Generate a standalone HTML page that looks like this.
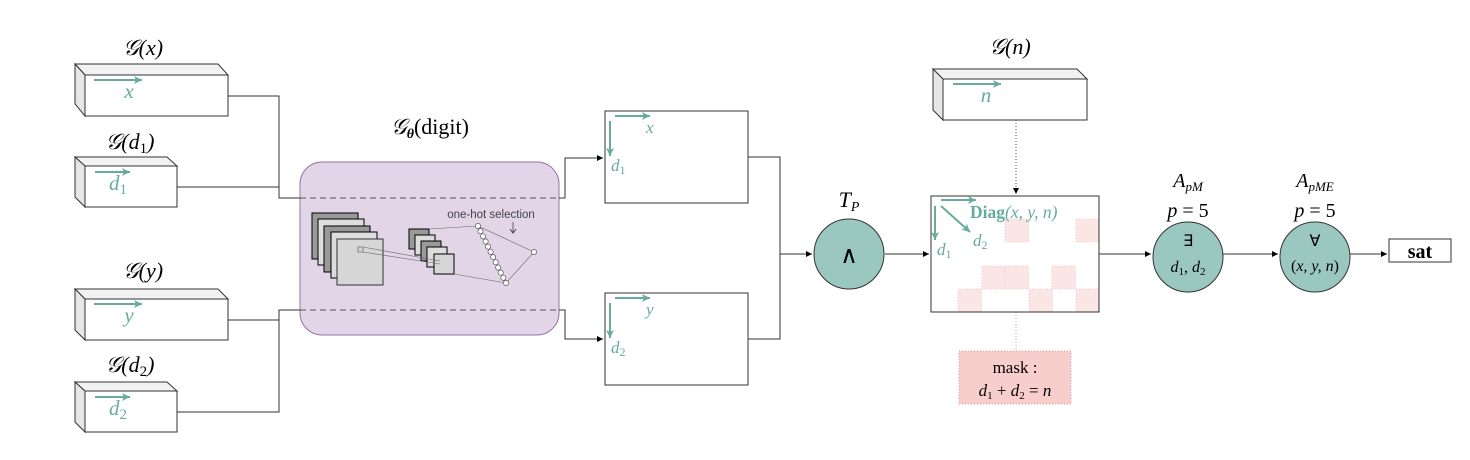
<!DOCTYPE html>
<html><head><meta charset="utf-8"><style>
html,body{margin:0;padding:0;background:#fff;width:1470px;height:460px;overflow:hidden}
svg{display:block}
.m{font-family:"Liberation Serif",serif;font-style:italic}
.r{font-family:"Liberation Serif",serif}
</style></head><body>
<svg width="1470" height="460" viewBox="0 0 1470 460" xmlns="http://www.w3.org/2000/svg">
<defs>
<marker id="ah" markerWidth="8" markerHeight="8" refX="6" refY="3" orient="auto" markerUnits="userSpaceOnUse"><path d="M0,0 L6,3 L0,6 z" fill="#000"/></marker>
<marker id="at" markerWidth="10" markerHeight="10" refX="8" refY="4" orient="auto" markerUnits="userSpaceOnUse"><path d="M0,0 L8,4 L0,8 L2,4 z" fill="#67ab9f"/></marker>
<marker id="ag" markerWidth="8" markerHeight="8" refX="4" refY="4" orient="auto" markerUnits="userSpaceOnUse"><path d="M0,1 L4,4 L0,7" fill="none" stroke="#444"/></marker>
</defs>

<g>
<text x="143" y="55" class="m" font-size="22" text-anchor="middle">𝒢(x)</text>
<polygon points="75,64 218,64 228,75 85,75" fill="#f2f2f2" stroke="#333"/>
<polygon points="75,64 85,75 85,116 75,104" fill="#e6e6e6" stroke="#333"/>
<rect x="85" y="75" width="143" height="41" fill="#fff" stroke="#333"/>
<line x1="94" y1="80" x2="142" y2="80" stroke="#67ab9f" stroke-width="2" marker-end="url(#at)"/>
<text x="129" y="98" class="m" font-size="21" fill="#67ab9f" text-anchor="middle">x</text>
</g>
<g>
<text x="130" y="149" class="m" font-size="22" text-anchor="middle">𝒢(d<tspan font-size="15" dy="4" font-style="normal">1</tspan><tspan dy="-4">)</tspan></text>
<polygon points="75,157 167,157 177,166 85,166" fill="#f2f2f2" stroke="#333"/>
<polygon points="75,157 85,166 85,207 75,197" fill="#e6e6e6" stroke="#333"/>
<rect x="85" y="166" width="92" height="41" fill="#fff" stroke="#333"/>
<line x1="95" y1="172" x2="130" y2="172" stroke="#67ab9f" stroke-width="2" marker-end="url(#at)"/>
<text x="109" y="190" class="m" font-size="21" fill="#67ab9f">d<tspan font-size="15" dy="4" font-style="normal">1</tspan></text>
</g>
<g>
<text x="143" y="278" class="m" font-size="22" text-anchor="middle">𝒢(y)</text>
<polygon points="75,289 218,289 228,299 85,299" fill="#f2f2f2" stroke="#333"/>
<polygon points="75,289 85,299 85,340 75,330" fill="#e6e6e6" stroke="#333"/>
<rect x="85" y="299" width="143" height="41" fill="#fff" stroke="#333"/>
<line x1="94" y1="304" x2="142" y2="304" stroke="#67ab9f" stroke-width="2" marker-end="url(#at)"/>
<text x="129" y="322" class="m" font-size="21" fill="#67ab9f" text-anchor="middle">y</text>
</g>
<g>
<text x="130" y="372" class="m" font-size="22" text-anchor="middle">𝒢(d<tspan font-size="15" dy="4" font-style="normal">2</tspan><tspan dy="-4">)</tspan></text>
<polygon points="75,382 167,382 177,391 85,391" fill="#f2f2f2" stroke="#333"/>
<polygon points="75,382 85,391 85,432 75,422" fill="#e6e6e6" stroke="#333"/>
<rect x="85" y="391" width="92" height="41" fill="#fff" stroke="#333"/>
<line x1="95" y1="397" x2="130" y2="397" stroke="#67ab9f" stroke-width="2" marker-end="url(#at)"/>
<text x="109" y="415" class="m" font-size="21" fill="#67ab9f">d<tspan font-size="15" dy="4" font-style="normal">2</tspan></text>
</g>

<g>
<text x="430" y="134" class="m" font-size="22" text-anchor="middle">𝒢<tspan font-size="14" dy="4" font-weight="bold">θ</tspan><tspan dy="-4" font-style="normal">(digit)</tspan></text>
<rect x="300" y="162" width="259" height="173" rx="22" fill="#e1d5e7" stroke="#9673a6"/>
<g stroke="#000" stroke-width="1">
<rect x="312" y="213" width="46" height="46" fill="#999"/>
<rect x="318" y="219" width="46" height="46" fill="#ddd"/>
<rect x="324" y="226" width="46" height="46" fill="#999"/>
<rect x="331" y="232" width="46" height="46" fill="#ddd"/>
<rect x="337" y="239" width="46" height="46" fill="#d6d6d6" stroke="#333"/>
<rect x="409" y="229" width="20" height="20" fill="#999"/>
<rect x="415" y="235" width="20" height="20" fill="#ddd"/>
<rect x="421" y="241" width="20" height="20" fill="#999"/>
<rect x="427" y="247" width="20" height="20" fill="#ddd"/>
<rect x="434" y="254" width="20" height="20" fill="#d6d6d6"/>
</g>
<rect x="358" y="247" width="5" height="5" fill="none" stroke="#888"/>
<line x1="363" y1="247" x2="440" y2="261" stroke="#666" stroke-width="0.6"/>
<line x1="363" y1="252" x2="440" y2="264" stroke="#666" stroke-width="0.6"/>
<line x1="429" y1="229" x2="478" y2="226" stroke="#666" stroke-width="0.6"/>
<line x1="454" y1="274" x2="506" y2="283" stroke="#666" stroke-width="0.6"/>
<line x1="478" y1="226" x2="534" y2="252" stroke="#666" stroke-width="0.6"/>
<line x1="506" y1="283" x2="534" y2="252" stroke="#666" stroke-width="0.6"/>
<g fill="#fff" stroke="#555" stroke-width="0.7">
<circle cx="478" cy="226" r="2.6"/><circle cx="480.5" cy="231.2" r="2.6"/><circle cx="483" cy="236.4" r="2.6"/><circle cx="485.6" cy="241.5" r="2.6"/><circle cx="488.1" cy="246.7" r="2.6"/><circle cx="490.6" cy="251.9" r="2.6"/><circle cx="493.1" cy="257.1" r="2.6"/><circle cx="495.7" cy="262.3" r="2.6"/><circle cx="498.2" cy="267.5" r="2.6"/><circle cx="500.7" cy="272.6" r="2.6"/><circle cx="503.3" cy="277.8" r="2.6"/><circle cx="506" cy="283" r="2.6"/>
<circle cx="534" cy="252" r="2.6"/>
</g>
<text x="491" y="218" font-family="Liberation Sans, sans-serif" font-size="11.5" fill="#444" text-anchor="middle">one-hot selection</text>
<line x1="513" y1="222" x2="513" y2="233" stroke="#444" stroke-width="0.8" marker-end="url(#ag)"/>
</g>

<g fill="none" stroke="#333" stroke-width="1">
<polyline points="228,96 279,96 279,198 300,198"/>
<line x1="177" y1="187" x2="279" y2="187"/>
<polyline points="228,320 279,320 279,310 300,310"/>
<polyline points="177,412 279,412 279,310"/>
<line x1="300" y1="198" x2="559" y2="198" stroke-dasharray="6,4" stroke="#555"/>
<line x1="300" y1="310" x2="559" y2="310" stroke-dasharray="6,4" stroke="#555"/>
<polyline points="559,198 565,198 565,158 603,158" marker-end="url(#ah)"/>
<polyline points="559,310 565,310 565,339 603,339" marker-end="url(#ah)"/>
</g>

<g>
<rect x="605" y="111" width="143" height="92" fill="#fff" stroke="#333"/>
<line x1="615" y1="116" x2="650" y2="116" stroke="#67ab9f" stroke-width="2" marker-end="url(#at)"/>
<line x1="610" y1="121" x2="610" y2="156" stroke="#67ab9f" stroke-width="2" marker-end="url(#at)"/>
<text x="646" y="133" class="m" font-size="17" fill="#67ab9f">x</text>
<text x="611" y="171" class="m" font-size="17" fill="#67ab9f">d<tspan font-size="12" dy="3" font-style="normal">1</tspan></text>
</g>
<g>
<rect x="605" y="293" width="143" height="92" fill="#fff" stroke="#333"/>
<line x1="615" y1="298" x2="650" y2="298" stroke="#67ab9f" stroke-width="2" marker-end="url(#at)"/>
<line x1="610" y1="303" x2="610" y2="338" stroke="#67ab9f" stroke-width="2" marker-end="url(#at)"/>
<text x="646" y="315" class="m" font-size="17" fill="#67ab9f">y</text>
<text x="611" y="353" class="m" font-size="17" fill="#67ab9f">d<tspan font-size="12" dy="3" font-style="normal">2</tspan></text>
</g>
<g fill="none" stroke="#333">
<polyline points="748,157 780,157 780,339 748,339"/>
<line x1="780" y1="254" x2="812" y2="254" marker-end="url(#ah)"/>
<line x1="885" y1="254" x2="929" y2="254" marker-end="url(#ah)"/>
</g>

<g>
<text x="849" y="207" class="m" font-size="22" text-anchor="middle">T<tspan font-size="14" dy="4">P</tspan></text>
<circle cx="849" cy="254" r="35" fill="#9ac7bf" stroke="#333"/>
<text x="849" y="263" class="r" font-size="24" text-anchor="middle">∧</text>
</g>

<g>
<text x="1010" y="54" class="m" font-size="22" text-anchor="middle">𝒢(n)</text>
<polygon points="933,69 1077,69 1087,79 943,79" fill="#f2f2f2" stroke="#333"/>
<polygon points="933,69 943,79 943,120 933,110" fill="#e6e6e6" stroke="#333"/>
<rect x="943" y="79" width="144" height="41" fill="#fff" stroke="#333"/>
<line x1="953" y1="84" x2="1001" y2="84" stroke="#67ab9f" stroke-width="2" marker-end="url(#at)"/>
<text x="986" y="102" class="m" font-size="21" fill="#67ab9f" text-anchor="middle">n</text>
</g>
<line x1="1016" y1="120" x2="1016" y2="194" stroke="#555" stroke-dasharray="1,2" marker-end="url(#ah)"/>
<line x1="1016" y1="312" x2="1016" y2="351" stroke="#d79b9b" stroke-dasharray="1,2"/>

<g>
<rect x="931" y="196" width="168" height="116" fill="#fff" stroke="#333"/>
<g fill="#fbe6e6" stroke="#f2b8b8" stroke-dasharray="1,2" stroke-width="0.8">
<rect x="1005" y="219" width="23.5" height="23"/><rect x="1076" y="219" width="23" height="23"/>
<rect x="982" y="266" width="23.5" height="23"/><rect x="1005" y="266" width="23.5" height="23"/><rect x="1052" y="266" width="23.5" height="23"/>
<rect x="958" y="289" width="23.5" height="23"/><rect x="1029" y="289" width="23.5" height="23"/><rect x="1076" y="289" width="23" height="23"/>
</g>
<rect x="931" y="196" width="168" height="116" fill="none" stroke="#333"/>
<line x1="941" y1="200" x2="976" y2="200" stroke="#67ab9f" stroke-width="2" marker-end="url(#at)"/>
<line x1="935" y1="206" x2="935" y2="240" stroke="#67ab9f" stroke-width="2" marker-end="url(#at)"/>
<line x1="941" y1="206" x2="970" y2="232" stroke="#67ab9f" stroke-width="2" marker-end="url(#at)"/>
<text x="970" y="218" font-size="17.5" fill="#67ab9f" class="r"><tspan font-weight="bold">Diag</tspan><tspan font-style="italic">(x, y, n)</tspan></text>
<text x="973" y="246" class="m" font-size="17" fill="#67ab9f">d<tspan font-size="12" dy="3" font-style="normal">2</tspan></text>
<text x="937" y="255" class="m" font-size="17" fill="#67ab9f">d<tspan font-size="12" dy="3" font-style="normal">1</tspan></text>
</g>
<g>
<rect x="959" y="351" width="112" height="53" fill="#f8cecc" stroke="#d79b9b" stroke-dasharray="1,2"/>
<text x="1015" y="373" class="r" font-size="17" text-anchor="middle">mask :</text>
<text x="1015" y="396" class="m" font-size="17" text-anchor="middle">d<tspan font-size="11" dy="3" font-style="normal">1</tspan><tspan dy="-3" font-style="normal"> + </tspan>d<tspan font-size="11" dy="3" font-style="normal">2</tspan><tspan dy="-3" font-style="normal"> = </tspan>n</text>
</g>

<g fill="none" stroke="#333">
<line x1="1099" y1="254" x2="1151" y2="254" marker-end="url(#ah)"/>
<line x1="1223" y1="254" x2="1278" y2="254" marker-end="url(#ah)"/>
<line x1="1350" y1="254" x2="1387" y2="254" marker-end="url(#ah)"/>
</g>
<g>
<text x="1188" y="187" class="m" font-size="20" text-anchor="middle">A<tspan font-size="13" dy="4">pM</tspan></text>
<text x="1188" y="217" class="m" font-size="20" text-anchor="middle">p<tspan font-style="normal"> = 5</tspan></text>
<circle cx="1188" cy="257" r="35" fill="#9ac7bf" stroke="#333"/>
<text x="1188" y="246" class="r" font-size="16" text-anchor="middle">∃</text>
<text x="1188" y="272" class="m" font-size="16" text-anchor="middle">d<tspan font-size="11" dy="3" font-style="normal">1</tspan><tspan dy="-3" font-style="normal">, </tspan>d<tspan font-size="11" dy="3" font-style="normal">2</tspan></text>
</g>
<g>
<text x="1315" y="187" class="m" font-size="20" text-anchor="middle">A<tspan font-size="13" dy="4">pME</tspan></text>
<text x="1315" y="217" class="m" font-size="20" text-anchor="middle">p<tspan font-style="normal"> = 5</tspan></text>
<circle cx="1315" cy="257" r="35" fill="#9ac7bf" stroke="#333"/>
<text x="1315" y="246" class="r" font-size="16" text-anchor="middle">∀</text>
<text x="1315" y="271" class="m" font-size="16" text-anchor="middle"><tspan font-style="normal">(</tspan>x, y, n<tspan font-style="normal">)</tspan></text>
</g>
<g>
<rect x="1389" y="239" width="62" height="23" fill="#fff" stroke="#333"/>
<text x="1420" y="258" class="r" font-size="20" font-weight="bold" text-anchor="middle">sat</text>
</g>
</svg>
</body></html>
